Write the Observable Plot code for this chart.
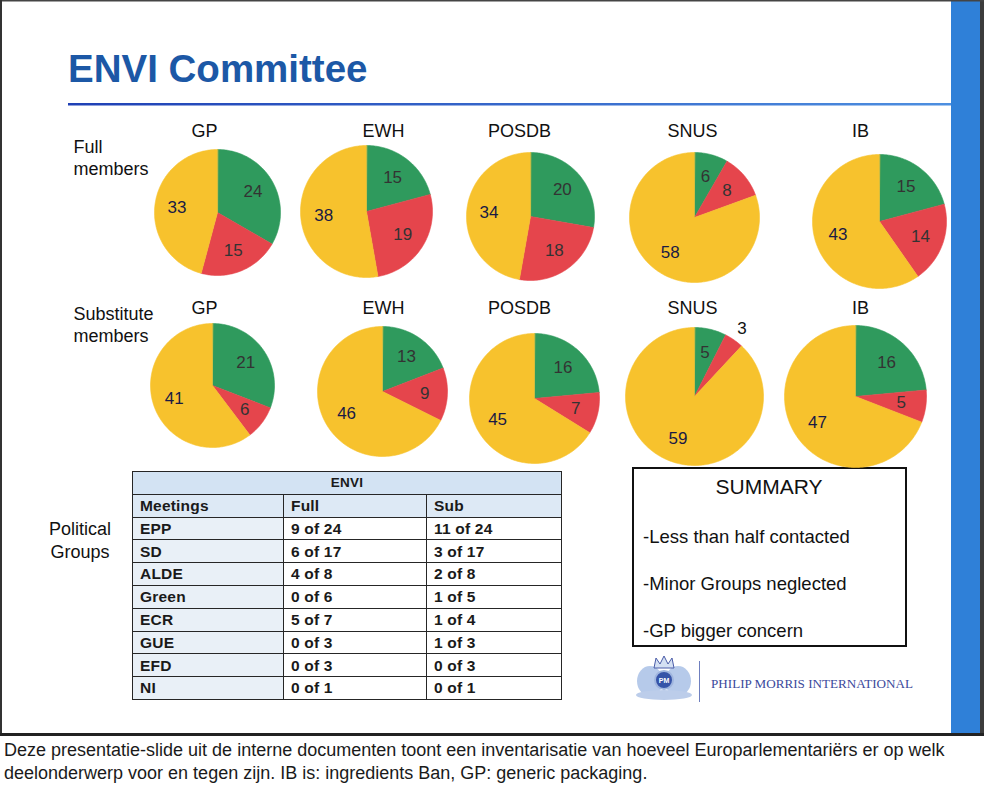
<!DOCTYPE html>
<html>
<head>
<meta charset="utf-8">
<script src="https://cdn.jsdelivr.net/npm/d3@7"></script>
<script src="https://cdn.jsdelivr.net/npm/@observablehq/plot@0.6"></script>
<style>
  html, body { margin: 0; padding: 0; background: #fff; }
  #page { position: relative; width: 984px; height: 792px; overflow: hidden; font-family: "Liberation Sans", Arial, sans-serif; }
  #chrome { position: absolute; left: 0; top: 0; }
  #pies { position: absolute; left: 0; top: 0; }
  #tbl { position: absolute; left: 132px; top: 471px; width: 429px; border-collapse: collapse; table-layout: fixed;
         font-family: "Liberation Sans", Arial, sans-serif; font-weight: bold; font-size: 15.5px; color: #1a1a1a; }
  #tbl td { border: 1.5px solid #262626; height: 21.8px; padding: 0 0 0 7px; line-height: 1; white-space: nowrap; overflow: hidden; letter-spacing: 0.2px; }
  #tbl tr.envi td { background: #d3e3f3; text-align: center; padding: 0; font-size: 13.5px; }
  #tbl tr.head td { background: #dde9f5; }
  #tbl td.grp { background: #e9f0f7; }
</style>
</head>
<body>
<div id="page">
  <svg id="chrome" width="984" height="792"></svg>
  <div id="pies"></div>
  <table id="tbl"></table>
</div>
<script>
// ---------- data ----------
const topics = ["GP", "EWH", "POSDB", "SNUS", "IB"];
const memberTypes = ["Full members", "Substitute members"];
const stances = ["For", "Against", "Neutral"];
const fullFor       = [24, 15, 20, 6, 15];
const fullAgainst   = [15, 19, 18, 8, 14];
const fullNeutral   = [33, 38, 34, 58, 43];
const subFor        = [21, 13, 16, 5, 16];
const subAgainst    = [6, 9, 7, 3, 5];
const subNeutral    = [41, 46, 45, 59, 47];

const tableTitle = "ENVI";
const tableHeader = ["Meetings", "Full", "Sub"];
const groups = ["EPP", "SD", "ALDE", "Green", "ECR", "GUE", "EFD", "NI"];
const fullMet   = [9, 6, 4, 0, 5, 0, 0, 0];
const fullSeats = [24, 17, 8, 6, 7, 3, 3, 1];
const subMet    = [11, 3, 2, 1, 1, 1, 0, 0];
const subSeats  = [24, 17, 8, 5, 4, 3, 3, 1];

const titleText = "ENVI Committee";
const summaryTitle = "SUMMARY";
const summaryPoints = ["-Less than half contacted", "-Minor Groups neglected", "-GP bigger concern"];
const groupLabel = ["Political", "Groups"];
const logoText = "PHILIP MORRIS INTERNATIONAL";
const captionLines = [
  "Deze presentatie-slide uit de interne documenten toont een inventarisatie van hoeveel Europarlementariërs er op welk",
  "deelonderwerp voor en tegen zijn. IB is: ingredients Ban, GP: generic packaging."
];

// ---------- layout (positions / sizes / styles) ----------
const stanceColors = ["#2f9a5d", "#e5454c", "#f7c22d"];
const pieLayout = [
  [[217, 212, 63], [366, 211, 66], [530, 216, 64], [694, 217, 65], [879, 221, 67]],
  [[212, 385, 62], [382, 391, 65], [534, 398, 65], [694, 396, 69], [855, 396, 71]]
];
const topicLabelX = [204, 383, 519, 692, 860];
const topicLabelBaseline = [136, 313];
const rowLabelPos = [[[73, 152], [73, 174]], [[73, 319], [73, 341]]];
const FONT = "Liberation Sans, Arial, sans-serif";

// ---------- build pie geometry through d3.pie ----------
const series = [[fullFor, fullAgainst, fullNeutral], [subFor, subAgainst, subNeutral]];
const pie = d3.pie().sort(null).value(d => d.value);
const points = [], labels = [], topicLabels = [], rowLabels = [];
memberTypes.forEach((m, ri) => {
  topics.forEach((t, ci) => {
    const vals = stances.map((s, si) => ({stance: s, value: series[ri][si][ci]}));
    const total = d3.sum(vals, d => d.value);
    const [cx, cy, r] = pieLayout[ri][ci];
    pie(vals).forEach((a, k) => {
      const id = `${ri}-${ci}-${k}`;
      const stance = a.data.stance;
      points.push({id, stance, x: cx, y: cy});
      const n = Math.max(2, Math.ceil((a.endAngle - a.startAngle) / (Math.PI / 180)));
      for (let i = 0; i <= n; i++) {
        const th = a.startAngle + (a.endAngle - a.startAngle) * i / n;
        points.push({id, stance, x: cx + r * Math.sin(th), y: cy - r * Math.cos(th)});
      }
      const mid = (a.startAngle + a.endAngle) / 2;
      const small = a.data.value / total < 0.05;
      const lr = small ? r * 1.2 : r * 0.65;
      labels.push({x: cx + lr * Math.sin(mid), y: cy - lr * Math.cos(mid), text: String(a.data.value), stance, small});
    });
    topicLabels.push({x: topicLabelX[ci], y: topicLabelBaseline[ri], text: t});
  });
  m.split(" ").forEach((w, li) => rowLabels.push({x: rowLabelPos[ri][li][0], y: rowLabelPos[ri][li][1], text: w}));
});

const chart = Plot.plot({
  width: 984, height: 470, margin: 0,
  x: {domain: [0, 984], range: [0, 984], axis: null},
  y: {domain: [0, 470], range: [0, 470], axis: null},
  color: {type: "ordinal", domain: stances, range: stanceColors},
  style: {background: "transparent", fontFamily: FONT, overflow: "visible"},
  marks: [
    Plot.line(points, {x: "x", y: "y", z: "id", fill: "stance", stroke: "stance", strokeWidth: 0.6, curve: "linear-closed"}),
    Plot.text(labels.filter(d => !d.small && d.stance !== "Neutral"), {x: "x", y: "y", text: "text", fill: "#333", fontSize: 17, fontFamily: FONT}),
    Plot.text(labels.filter(d => !d.small && d.stance === "Neutral"), {x: "x", y: "y", text: "text", fill: "#1a1a44", fontSize: 17, fontFamily: FONT}),
    Plot.text(labels.filter(d => d.small), {x: "x", y: "y", text: "text", fill: "#111", fontSize: 17, fontFamily: FONT}),
    Plot.text(topicLabels, {x: "x", y: "y", text: "text", fill: "#111", fontSize: 18, fontFamily: FONT, lineAnchor: "bottom"}),
    Plot.text(rowLabels, {x: "x", y: "y", text: "text", fill: "#111", fontSize: 18, fontFamily: FONT, lineAnchor: "bottom", textAnchor: "start"})
  ]
});
document.getElementById("pies").appendChild(chart);

// ---------- table ----------
const tbl = d3.select("#tbl");
const cg = tbl.append("colgroup");
[151, 143, 135].forEach(w => cg.append("col").style("width", w + "px"));
tbl.append("tr").attr("class", "envi").append("td").attr("colspan", 3).text(tableTitle);
const hr = tbl.append("tr").attr("class", "head");
tableHeader.forEach((h, i) => hr.append("td").attr("class", i === 0 ? "grp" : null).text(h));
groups.forEach((g, i) => {
  const tr = tbl.append("tr");
  tr.append("td").attr("class", "grp").text(g);
  tr.append("td").text(`${fullMet[i]} of ${fullSeats[i]}`);
  tr.append("td").text(`${subMet[i]} of ${subSeats[i]}`);
});

// ---------- slide chrome ----------
const svg = d3.select("#chrome");
const defs = svg.append("defs");
const lg = defs.append("linearGradient").attr("id", "rule").attr("x1", 0).attr("x2", 1);
lg.append("stop").attr("offset", 0).attr("stop-color", "#1f40b5");
lg.append("stop").attr("offset", 1).attr("stop-color", "#4d8fe0");
svg.append("rect").attr("x", 951).attr("y", 0).attr("width", 30).attr("height", 735).attr("fill", "#2f80d8");
svg.append("rect").attr("x", 980).attr("y", 0).attr("width", 4).attr("height", 736).attr("fill", "#3c3c3c");
svg.append("rect").attr("x", 0).attr("y", 0).attr("width", 984).attr("height", 1.5).attr("fill", "#444");
svg.append("rect").attr("x", 0).attr("y", 0).attr("width", 2).attr("height", 736).attr("fill", "#333");
svg.append("rect").attr("x", 0).attr("y", 733).attr("width", 984).attr("height", 3).attr("fill", "#222");
svg.append("text").attr("x", 68).attr("y", 82).attr("font-family", FONT).attr("font-weight", "bold")
  .attr("font-size", 38.5).attr("fill", "#1c58a6").text(titleText);
svg.append("rect").attr("x", 68).attr("y", 103).attr("width", 883).attr("height", 2.5).attr("fill", "url(#rule)");
groupLabel.forEach((t, i) => svg.append("text").attr("x", 80).attr("y", 535 + i * 23).attr("text-anchor", "middle")
  .attr("font-family", FONT).attr("font-size", 18).attr("fill", "#111").text(t));
svg.append("rect").attr("x", 633).attr("y", 468).attr("width", 273).attr("height", 178)
  .attr("fill", "none").attr("stroke", "#111").attr("stroke-width", 2);
svg.append("text").attr("x", 769).attr("y", 494).attr("text-anchor", "middle").attr("font-family", FONT)
  .attr("font-size", 21).attr("fill", "#111").text(summaryTitle);
summaryPoints.forEach((t, i) => svg.append("text").attr("x", 643).attr("y", 543 + i * 47)
  .attr("font-family", FONT).attr("font-size", 18.5).attr("fill", "#111").text(t));
const logo = svg.append("g");
logo.append("ellipse").attr("cx", 650).attr("cy", 681).attr("rx", 13).attr("ry", 15).attr("fill", "#a9c1e6").attr("opacity", 0.85);
logo.append("ellipse").attr("cx", 678).attr("cy", 681).attr("rx", 13).attr("ry", 15).attr("fill", "#a9c1e6").attr("opacity", 0.85);
logo.append("ellipse").attr("cx", 664).attr("cy", 695).attr("rx", 28).attr("ry", 5).attr("fill", "#bccdea");
logo.append("path").attr("d", "M654,668 L656,658 L660,664 L664,656 L668,664 L672,658 L674,668 Z")
  .attr("fill", "#d4e0f3").attr("stroke", "#4a5ca8").attr("stroke-width", 1);
logo.append("circle").attr("cx", 664).attr("cy", 680).attr("r", 9).attr("fill", "#3654a8").attr("stroke", "#9fb5de").attr("stroke-width", 2);
logo.append("text").attr("x", 664).attr("y", 683).attr("text-anchor", "middle").attr("font-family", FONT)
  .attr("font-size", 7).attr("font-weight", "bold").attr("fill", "#fff").text("PM");
svg.append("line").attr("x1", 699.5).attr("x2", 699.5).attr("y1", 661).attr("y2", 702).attr("stroke", "#6f7fbf").attr("stroke-width", 1);
svg.append("text").attr("x", 711).attr("y", 688).attr("font-family", "Liberation Serif, Times New Roman, serif")
  .attr("font-size", 13.5).attr("fill", "#3b4a9c").attr("textLength", 202).attr("lengthAdjust", "spacingAndGlyphs").text(logoText);
captionLines.forEach((t, i) => svg.append("text").attr("x", 4).attr("y", 756 + i * 23)
  .attr("font-family", FONT).attr("font-size", 18).attr("fill", "#1a1a1a").text(t));
</script>
</body>
</html>
